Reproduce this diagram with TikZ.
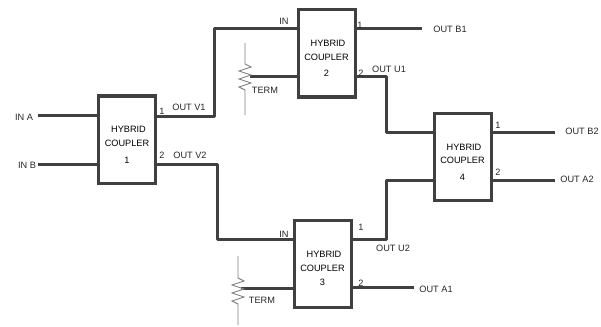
\documentclass[tikz,border=0pt]{standalone}
\usepackage{fontspec}
\setmainfont{Liberation Sans}
\usetikzlibrary{calc}

\begin{document}
\begin{tikzpicture}[
  x=1pt, y=-1pt,
  coupler/.style={draw=black!75, line width=3pt, fill=white, minimum width=57pt,
                  minimum height=87pt, inner sep=0pt, align=center, font=\fontsize{9.2}{13.5}\selectfont},
  wire/.style={draw=black!75, line width=3pt, line join=round},
  res/.style={draw=black!50, line width=0.9pt},
  lbl/.style={inner sep=0pt, font=\fontsize{9.2}{10}\selectfont, text=black!85},
]
\useasboundingbox (0,0) rectangle (601,326);

\node[coupler] (c1) at (127,139.5) {\rule{0pt}{17pt}\hspace{3pt}HYBRID\\COUPLER\\[4pt]1};
\node[coupler] (c2) at (326.5,53.5) {\rule{0pt}{17pt}\hspace{3pt}HYBRID\\COUPLER\\[3pt]2};
\node[coupler] (c3) at (322.5,263.5) {\rule{0pt}{17pt}\hspace{3pt}HYBRID\\COUPLER\\[1pt]3};
\node[coupler] (c4) at (462.5,156.5) {\rule{0pt}{17pt}\hspace{3pt}HYBRID\\COUPLER\\[3pt]4};

% free ends
\coordinate (ina) at (38,115);
\coordinate (inb) at (38,164);
\coordinate (outb1) at (422,29);
\coordinate (outa1) at (414,287.5);
\coordinate (outb2) at (555,132);
\coordinate (outa2) at (555,180);
\coordinate (term2) at (250,77);
\coordinate (term3) at (241,288);

% ports on the box edges
\coordinate (c1a) at (c1.west |- ina);
\coordinate (c1b) at (c1.west |- inb);
\coordinate (c1p) at (c1.east |- 0,116);
\coordinate (c1q) at (c1.east |- inb);
\coordinate (c2i) at (c2.west |- outb1);
\coordinate (c2p) at (c2.east |- outb1);
\coordinate (c2t) at (c2.west |- term2);
\coordinate (c2q) at (c2.east |- term2);
\coordinate (c3i) at (c3.west |- 0,239);
\coordinate (c3p) at (c3.east |- 0,239);
\coordinate (c3t) at (c3.west |- term3);
\coordinate (c3q) at (c3.east |- outa1);
\coordinate (c4a) at (c4.west |- outb2);
\coordinate (c4b) at (c4.west |- outa2);
\coordinate (c4p) at (c4.east |- outb2);
\coordinate (c4q) at (c4.east |- outa2);

\draw[wire] (ina) -- (c1a);
\draw[wire] (inb) -- (c1b);
\draw[wire] (c1p) -- (214,116) -- (214,29) -- (c2i);
\draw[wire] (c1q) -- (217,164) -- (217,239) -- (c3i);
\draw[wire] (c2p) -- (outb1);
\draw[wire] (c2q) -- (386,77) -- (386,132) -- (c4a);
\draw[wire] (c3p) -- (386,239) -- (386,180) -- (c4b);
\draw[wire] (c3q) -- (outa1);
\draw[wire] (c4p) -- (outb2);
\draw[wire] (c4q) -- (outa2);
\draw[wire] (term2) -- (c2t);
\draw[wire] (term3) -- (c3t);

% resistors
\draw[res] (245,43) -- (245,64) -- (251,67) -- (239,71) -- (251,75) -- (239,79) -- (251,83) -- (239,87) -- (245,90) -- (245,115);
\draw[res] (238,256) -- (238,278) -- (244,281) -- (232,285) -- (244,289) -- (232,293) -- (244,297) -- (232,301) -- (238,304) -- (238,325);

\node[lbl] (lina) at (24,117) {IN A};
\node[lbl] (linb) at (27,165) {IN B};
\node[lbl] (lv1) at (189,107) {OUT V1};
\node[lbl] (lv2) at (190,155) {OUT V2};
\node[lbl] (lp1) at (162,111) {1};
\node[lbl] (lq1) at (162,155) {2};
\node[lbl] (lin2) at (284,21) {IN};
\node[lbl] (lp2) at (360,25) {1};
\node[lbl] (lq2) at (361,73) {2};
\node[lbl] (lu1) at (389,69) {OUT U1};
\node[lbl] (lb1) at (450,29) {OUT B1};
\node[lbl] (lt2) at (265,90) {TERM};
\node[lbl] (lin3) at (284,234) {IN};
\node[lbl] (lp3) at (361,227) {1};
\node[lbl] (lq3) at (361,283) {2};
\node[lbl] (lu2) at (393,248) {OUT U2};
\node[lbl] (la1) at (436,289) {OUT A1};
\node[lbl] (lt3) at (262,300) {TERM};
\node[lbl] (lp4) at (498,125) {1};
\node[lbl] (lq4) at (498,172) {2};
\node[lbl] (lb2) at (582,131) {OUT B2};
\node[lbl] (la2) at (577,179) {OUT A2};
\end{tikzpicture}
\end{document}
